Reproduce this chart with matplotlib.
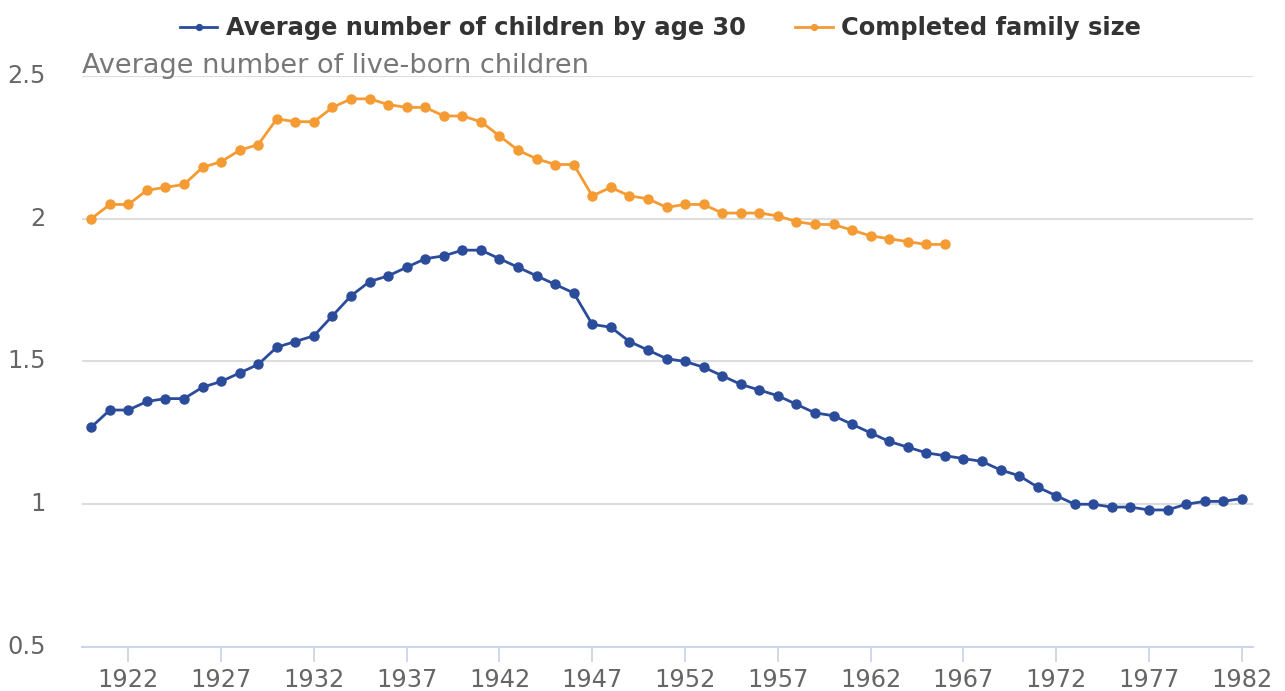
import matplotlib
matplotlib.use('Agg')
import matplotlib.pyplot as plt
import numpy as np

# data
years_blue = list(range(1920, 1983))
by_age_30 = [1.27, 1.33, 1.33, 1.36, 1.37, 1.37, 1.41, 1.43, 1.46, 1.49,
             1.55, 1.57, 1.59, 1.66, 1.73, 1.78, 1.80, 1.83, 1.86, 1.87,
             1.89, 1.89, 1.86, 1.83, 1.80, 1.77, 1.74, 1.63, 1.62, 1.57,
             1.54, 1.51, 1.50, 1.48, 1.45, 1.42, 1.40, 1.38, 1.35, 1.32,
             1.31, 1.28, 1.25, 1.22, 1.20, 1.18, 1.17, 1.16, 1.15, 1.12,
             1.10, 1.06, 1.03, 1.00, 1.00, 0.99, 0.99, 0.98, 0.98, 1.00,
             1.01, 1.01, 1.02]

years_orange = list(range(1920, 1967))
completed = [2.00, 2.05, 2.05, 2.10, 2.11, 2.12, 2.18, 2.20, 2.24, 2.26,
             2.35, 2.34, 2.34, 2.39, 2.42, 2.42, 2.40, 2.39, 2.39, 2.36,
             2.36, 2.34, 2.29, 2.24, 2.21, 2.19, 2.19, 2.08, 2.11, 2.08,
             2.07, 2.04, 2.05, 2.05, 2.02, 2.02, 2.02, 2.01, 1.99, 1.98,
             1.98, 1.96, 1.94, 1.93, 1.92, 1.91, 1.91]

y_ticks = [0.5, 1, 1.5, 2, 2.5]
y_tick_labels = ['0.5', '1', '1.5', '2', '2.5']
x_ticks = list(range(1922, 1983, 5))

blue = '#2b4c9b'
orange = '#f59b33'

fig = plt.figure(figsize=(12.85, 6.91), dpi=100)
ax = fig.add_axes([0.0638, 0.0637, 0.9112, 0.8263])

ax.plot(years_blue, by_age_30, color=blue, lw=2, marker='o', ms=6.5,
        label='Average number of children by age 30', zorder=3)
ax.plot(years_orange, completed, color=orange, lw=2, marker='o', ms=6.5,
        label='Completed family size', zorder=3)

ax.set_xlim(1919.5, 1982.6)
ax.set_ylim(0.5, 2.5)
ax.set_yticks(y_ticks)
ax.set_yticklabels(y_tick_labels)
ax.set_xticks(x_ticks)

for s in ['top', 'right', 'left']:
    ax.spines[s].set_visible(False)
ax.spines['bottom'].set_color('#ccd6eb')
ax.spines['bottom'].set_linewidth(1.5)

ax.grid(axis='y', color='#dddddd', lw=1.5, zorder=0)
ax.set_axisbelow(True)
ax.tick_params(axis='y', length=0, pad=26, labelsize=17.3, labelcolor='#666666')
ax.tick_params(axis='x', length=11, width=1.3, color='#ccd6eb', pad=4,
               labelsize=17.3, labelcolor='#666666')
for lbl in ax.get_yticklabels():
    lbl.set_horizontalalignment('right')
    lbl.set_verticalalignment('center')

ax.text(0.0, 1.005, 'Average number of live-born children', transform=ax.transAxes,
        fontsize=19.5, color='#777777', va='baseline', ha='left')

leg = fig.legend(loc='upper center', bbox_to_anchor=(0.514, 1.008), ncol=2, frameon=False,
                 prop={'weight': 'bold', 'size': 17.4}, handlelength=1.55,
                 handletextpad=0.35, columnspacing=2.05, markerscale=0.65)
for t in leg.get_texts():
    t.set_color('#333333')

fig.savefig('out.png', dpi=100)
